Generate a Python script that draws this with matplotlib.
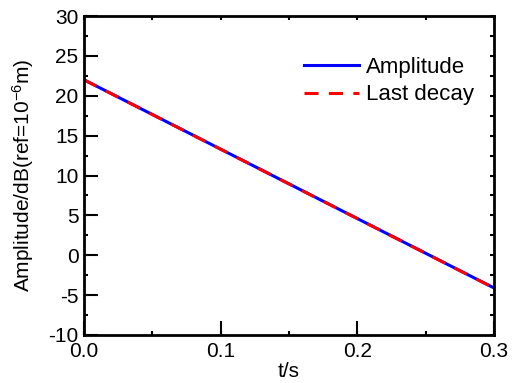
import matplotlib.pyplot as plt
from matplotlib.ticker import MultipleLocator

plt.rcParams['font.family'] = ['Liberation Sans', 'DejaVu Sans']
plt.rcParams['axes.unicode_minus'] = False
plt.rcParams['mathtext.fontset'] = 'custom'
plt.rcParams['mathtext.rm'] = 'Liberation Sans'
plt.rcParams['mathtext.it'] = 'Liberation Sans'

t = [0.0, 0.3]
amplitude = [22.0, -4.1]
last_decay = [22.0, -4.1]

fig = plt.figure(figsize=(5.19, 3.83), dpi=100)
ax = fig.add_axes([84 / 519, 1 - 335 / 383, 410 / 519, 319 / 383])

ax.plot(t, amplitude, color='blue', lw=2.2, label='Amplitude')
ax.plot(t, last_decay, color='red', lw=2.2, ls=(0, (4.6, 3.4)), label='Last decay')

ax.set_xlim(0, 0.3)
ax.set_ylim(-10, 30)
ax.xaxis.set_major_locator(MultipleLocator(0.1))
ax.xaxis.set_minor_locator(MultipleLocator(0.05))
ax.yaxis.set_major_locator(MultipleLocator(5))
ax.yaxis.set_minor_locator(MultipleLocator(2.5))
ax.xaxis.remove_overlapping_locs = False
ax.yaxis.remove_overlapping_locs = False
ax.xaxis.set_major_formatter(plt.FormatStrFormatter('%.1f'))

ax.tick_params(which='both', direction='in', labelsize=15, width=1.5)
ax.tick_params(which='major', length=10)
ax.tick_params(axis='x', which='major', pad=5)
ax.tick_params(axis='y', which='major', pad=4)
ax.tick_params(which='minor', length=3, top=True, right=True)
for s in ax.spines.values():
    s.set_linewidth(2)

ax.set_xlabel('t/s', fontsize=15, labelpad=1)
ax.set_ylabel('Amplitude/dB(ref=10$^{-6}$m)', fontsize=15, labelpad=9)

ax.legend(loc='upper right', bbox_to_anchor=(1.0, 0.935), frameon=False,
          fontsize=16, handlelength=2.5, handletextpad=0.3, labelspacing=0.3)

fig.savefig('out.png', dpi=100)
